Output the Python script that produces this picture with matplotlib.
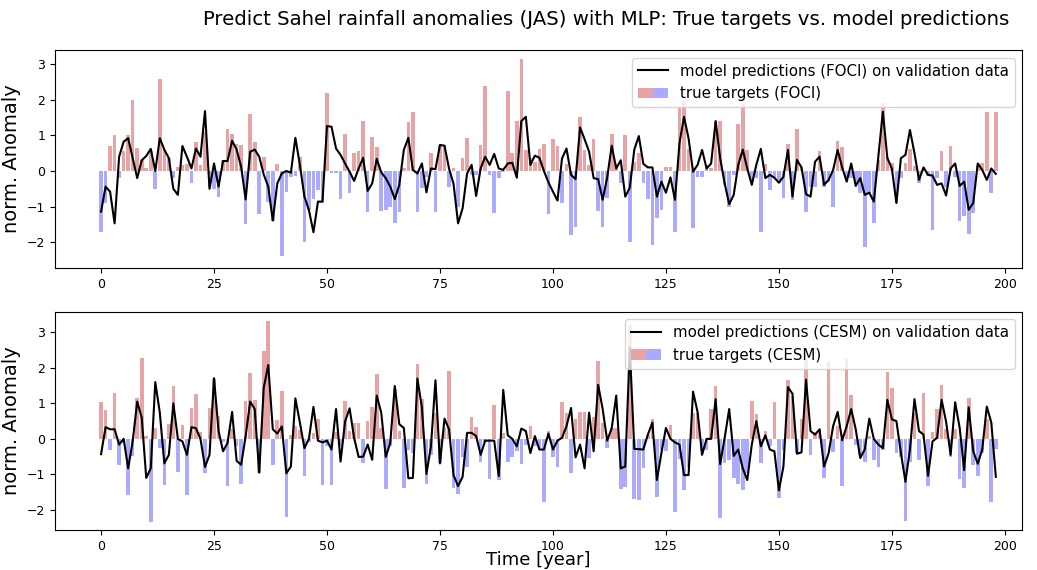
#!/usr/bin/env python3

# Import special modules ...
import matplotlib
matplotlib.use("Agg")
import matplotlib.pyplot
from matplotlib.legend_handler import HandlerTuple
import numpy

# ******************************************************************************

# True targets and model predictions (FOCI) ...
foci_true = [
    -1.7, -0.9, 0.71, 1.0, -0.2, 0.56, 1.0, 2.0, 0.65, 0.3,
    0.07, 0.56, -0.5, 2.58, 0.6, 0.36, -0.2, 0.1, 0.17, 0.2,
    -0.35, 0.82, 0.17, 1.1, -0.45, -0.5, -0.72, 0.3, 1.18, 1.05,
    0.75, 0.73, -1.49, 1.6, 0.8, -1.2, 0.38, -0.86, -1.4, 0.2,
    -2.4, -0.58, -0.16, -0.15, 0.4, -1.98, -1.1, -0.8, -0.53, -0.9,
    2.2, -0.05, -0.06, -0.8, 1.03, -0.63, 0.51, 0.56, 1.4, -1.16,
    0.94, 0.66, -1.12, -1.1, -1.0, -1.45, -1.16, 0.07, 1.38, 1.66,
    -1.16, -0.49, -0.16, 0.5, -1.16, 0.73, 0.73, -0.44, 0.07, -1.0,
    0.36, 0.93, -0.1, -0.12, 0.73, 2.39, -0.1, -1.17, -0.19, -0.04,
    2.24, 0.5, 1.4, 3.13, 0.6, 0.37, 0.26, 0.62, 0.75, -1.2,
    0.9, 0.71, -0.9, 0.2, -1.79, -1.58, 1.52, 0.59, 0.17,
    0.89, -1.12, -1.56, -0.77, 1.05, 0.2, -0.35, 1.0, -2.0, 0.25,
    0.5, -0.35, -0.8, -2.07, -1.33, -1.1, 0.12, 0.12, -1.7, 1.76,
    1.95, 0.62, -1.6, -0.16, -0.16, 0.17, 0.07, 1.4, 1.4, -0.4,
    -1.0, -0.1, 1.31, 1.87, 0.59, -0.3, -0.2, -1.7, 0.2, -0.53,
    -0.16, -0.35, -0.77, 0.76, -0.81, 1.18, 0.12, -1.16, -0.44, -0.44,
    0.56, -0.44, -0.3, -1.02, 0.85, 0.68, -0.16, -0.2, -0.35, -0.63,
    -2.12, -0.63, -1.45, 0.3, 1.9, 0.4, 0.21, -0.9, -0.2, 0.23,
    0.62, 0.15, -0.35, 0.1, -0.14, -1.65, -0.2, 0.56, -0.44, 0.71,
    -0.16, -1.39, -1.26, -1.77, -1.19, 0.15, 0.21, 1.66, -0.63, 1.66,
]
foci_pred = [
    -1.14, -0.44, -0.58, -1.47, 0.4, 0.82, 0.92, 0.36, -0.2, 0.3,
    0.42, 0.62, 0.0, 0.92, 0.6, 0.36, -0.5, -0.67, 0.7, 0.4,
    0.07, 0.63, 0.4, 1.68, -0.5, 0.21, -0.44, 0.28, 0.28, 0.85,
    0.6, 0.12, -0.8, 0.54, 0.6, 0.4, -0.1, -0.44, -1.39, -0.35,
    -0.07, 0.0, -0.05, 0.93, 0.17, -0.72, -1.1, -1.72, -0.86, -0.86,
    1.26, 1.24, 0.63, 0.45, 0.21, -0.02, -0.28, 0.07, 0.37, -0.56,
    -0.35, 0.34, -0.04, -0.2, -0.44, -0.79, -0.39, 0.59, 0.93, 0.03,
    -0.07, 0.21, -0.6, 0.07, 0.05, 0.73, 0.71, 0.07, -0.36, -1.47,
    -1.05, -0.07, 0.17, -0.7, 0.07, 0.4, 0.17, 0.48, 0.07, 0.03,
    0.21, 0.23, -0.19, 1.4, 1.52, 0.17, 0.43, 0.37, 0.0, -0.32,
    -0.58, -0.83, 0.35, 0.63, -0.11, -0.23, 1.22, 0.89, 0.54,
    -0.2, -0.23, -0.81, -0.19, 0.71, 0.07, 0.3, -0.72, -0.47, 0.6,
    0.98, 0.2, 0.1, 0.1, -0.72, -0.3, -0.61, -0.18, -0.81, 0.78,
    1.52, 0.92, -0.02, 0.17, 0.59, 0.07, 0.21, 1.4, 0.36, -0.35,
    -0.93, -0.67, 0.17, 0.6, 0.07, -0.39, 0.17, 0.62, -0.2, -0.11,
    -0.19, -0.33, -0.16, 0.59, -0.72, 0.31, 0.1, -0.65, -0.72, 0.26,
    0.4, -0.39, -0.25, 0.03, 0.59, 0.1, -0.3, 0.21, -0.42, -0.2,
    -0.67, -0.61, -0.86, 0.4, 1.66, 0.36, 0.07, -0.9, 0.36, 0.45,
    1.15, 0.5, -0.25, 0.1, -0.11, -0.13, -0.39, -0.35, -0.69, 0.07,
    0.21, -0.42, -0.3, -1.09, -0.9, 0.21, 0.03, -0.25, 0.07, -0.08,
]

# True targets and model predictions (CESM) ...
cesm_true = [
    1.03, 0.81, -0.3, 1.29, -0.73, -0.12, -1.59, -0.48, 1.15, 2.27,
    0.08, -2.33, 0.3, -0.26, -1.3, 0.43, 1.5, -0.92, 0.39, -1.59,
    0.87, 1.25, 0.2, -0.95, 0.87, 1.7, 0.65, -0.1, -1.33, 0.27,
    -0.2, -1.26, 1.06, 1.86, 1.1, -0.95, 2.48, 3.33, -0.73, 0.52,
    1.34, -2.2, 0.1, 0.36, 0.25, -1.05, -0.1, 0.17, 0.55, -1.3,
    -0.2, -1.3, 0.2, -0.2, 1.08, 0.22, 0.46, 0.46, -0.69, 0.49,
    0.89, 1.84, 0.3, -1.4, -0.2, 1.41, 0.22, -1.37, -0.3, -0.4,
    2.1, 1.12, -1.28, -0.45, 0.74, -0.69, 0.3, 1.9, -1.37, -1.54,
    -0.5, -0.78, 0.62, 0.33, -0.64, -0.1, -1.13, 0.96, -1.16, 0.17,
    -0.64, -0.5, -0.35, -0.7, -0.16, 0.36, -0.2, -0.25, -1.78, 0.22,
    -0.5, -0.78, 1.03, 0.74, -0.95, 0.57, 0.77, 0.77, -0.54, 0.62,
    2.2, 0.46, -0.27, 0.3, 0.3, -1.42, -1.35, 3.22, -1.7, -1.73,
    -0.83, 0.1, 0.57, -1.64, -0.3, -0.35, 0.38, -2.05, -0.57, -1.45,
    -0.8, 0.74, 0.74, -0.33, -0.3, 0.84, 1.5, -2.24, -0.69, -0.59,
    -1.11, -1.26, -1.45, -0.97, 1.08, 0.7, -0.69, 0.22, -0.2, 1.03,
    -1.67, -0.3, 1.65, 1.22, -0.4, 0.55, 2.22, -0.45, 0.2, 0.27,
    -1.1, 2.17, -0.38, 0.36, -1.33, 2.27, 1.24, -0.16, -0.45, -0.64,
    0.08, -0.59, -0.8, -0.3, 1.87, 1.43, -0.4, -0.5, -2.3, -0.64,
    0.74, -0.59, 1.3, -1.33, 0.2, 0.84, 1.53, 0.27, -0.5, 0.29,
    -1.13, -1.37, 1.15, -0.73, -1.04, -0.4, 0.55, -1.78, -0.29,
]
cesm_pred = [
    -0.43, 0.33, 0.27, 0.27, -0.16, 0.0, -0.83, -0.07, 1.05, 0.6,
    -1.1, -0.83, 1.6, 0.74, -0.69, -0.45, 1.0, 0.0, -0.07, -0.45,
    0.33, 0.3, 0.0, -0.79, -0.45, 1.71, 0.22, -0.35, -0.11, 0.76,
    -0.62, -0.73, 0.08, 1.05, 0.84, -0.95, 1.44, 2.08, 0.27, 0.15,
    0.35, -0.97, -0.78, 1.14, 0.46, -0.26, 0.0, 0.9, -0.05, -0.1,
    -0.05, -0.3, 0.84, -0.64, 0.49, 0.86, 0.03, -0.51, -0.5, -0.16,
    -0.59, 1.22, 0.74, -0.51, -0.11, 1.49, 0.41, 0.31, -1.11, -1.1,
    1.7, 0.89, -0.99, -0.21, 1.65, -0.69, 0.57, 0.27, -1.02, -1.33,
    -1.07, 0.17, 0.17, 0.08, -0.45, -0.05, -0.05, -0.05, -1.05, 1.38,
    0.1, 0.0, -0.21, 0.29, 0.22, -0.4, 0.08, -0.3, -0.3, 0.15,
    -0.3, -0.05, 0.03, 0.36, 0.87, -0.52, -0.16, -0.83, 0.74, -0.35,
    1.52, 0.84, -0.05, 0.3, 1.22, -0.83, -0.78, 2.57, -0.28, -0.29,
    -0.3, 0.12, 0.46, -1.16, -0.4, 0.31, 0.0, -0.1, -0.16, -1.02,
    -1.02, 1.33, 0.76, -0.45, 0.0, 0.0, 1.12, -0.71, 0.03, 0.84,
    -0.48, -0.3, -0.83, -1.16, -0.16, 0.5, -0.21, 0.1, -0.3, -0.35,
    -1.45, -0.78, 1.46, 1.27, -0.42, -0.38, 1.67, 0.22, 0.12, 0.27,
    -0.78, -0.4, 0.36, 0.76, -0.04, 0.36, 0.84, 0.27, -0.54, -0.3,
    0.57, 0.0, -0.16, -0.26, 1.1, 0.55, 0.5, -0.4, -1.21, -0.3,
    1.12, 0.22, 0.12, -1.04, -0.07, 0.03, 1.1, 0.48, -0.45, 1.03,
    0.31, -0.88, 0.89, -0.35, -0.7, -0.3, 0.91, 0.46, -1.07,
]

panels = [
    ("FOCI", foci_true, foci_pred, (-2.72, 3.39)),
    ("CESM", cesm_true, cesm_pred, (-2.57, 3.58)),
]

# ******************************************************************************

# Create plot ...
fg = matplotlib.pyplot.figure(figsize = (10.37, 5.70), dpi = 100)
fg.suptitle("Predict Sahel rainfall anomalies (JAS) with MLP: True targets vs. model predictions", fontsize = 14.2, x = 0.585, y = 0.982)

boxes = [
    [0.053, 0.530, 0.933, 0.382],
    [0.053, 0.070, 0.933, 0.383],
]

for i, (name, true, pred, ylim) in enumerate(panels):
    ax = fg.add_axes(boxes[i])

    true = numpy.array(true)
    pred = numpy.array(pred)
    yr = numpy.arange(true.size)

    # Add bars (positive red, negative blue) ...
    pos = numpy.where(true >= 0.0, true, 0.0)
    neg = numpy.where(true < 0.0, true, 0.0)
    b1 = ax.bar(yr, pos, width = 0.8, color = "#e8a4a4")
    b2 = ax.bar(yr, neg, width = 0.8, color = "#aaaaff")

    # Add predictions ...
    ln, = ax.plot(yr, pred, color = "black", linewidth = 1.5)

    ax.set_xlim(-10.2, 203.9)
    ax.set_ylim(*ylim)
    ax.set_xticks([0, 25, 50, 75, 100, 125, 150, 175, 200])
    ax.set_yticks([-2, -1, 0, 1, 2, 3])
    ax.tick_params(labelsize = 9)
    ax.set_ylabel("norm. Anomaly", fontsize = 14)

    ax.legend(
        [ln, (b1[0], b2[0])],
        ["model predictions ({:s}) on validation data".format(name), "true targets ({:s})".format(name)],
        handler_map = {tuple : HandlerTuple(ndivide = None, pad = 0.0)},
        loc = "upper right",
        fontsize = 10.8,
    )

    if i == 1:
        ax.set_xlabel("Time [year]", fontsize = 13, labelpad = -1)

# Save plot ...
fg.savefig("out.png", dpi = 100)
matplotlib.pyplot.close(fg)
